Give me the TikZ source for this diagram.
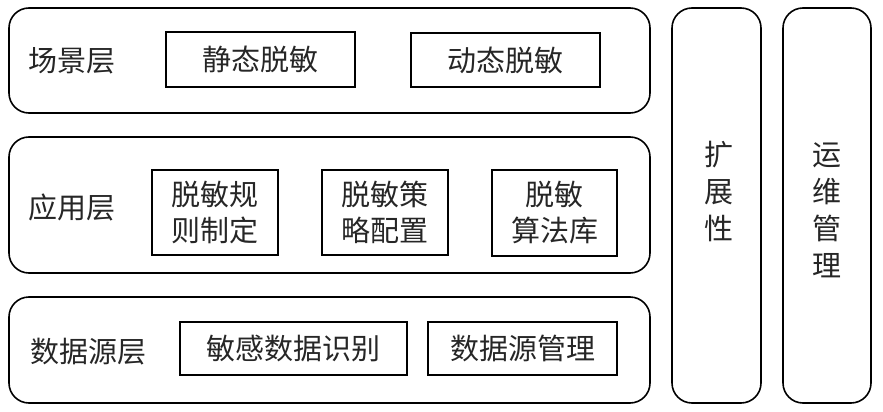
\documentclass[tikz,border=0pt]{standalone}
\usepackage{fontspec}
\setmainfont{Noto Sans CJK SC}
\begin{document}
\begin{tikzpicture}[
        x=1pt, y=-1pt,
        layer/.style={draw, line width=1.6pt, rounded corners=20pt, minimum width=641pt},
        item/.style={draw, line width=1.1pt, align=center, inner sep=0pt, text=black!85, font=\fontsize{29}{36}\selectfont},
        side/.style={draw, line width=1.6pt, rounded corners=20pt, minimum width=89pt, minimum height=395pt},
        tag/.style={text=black!85, align=center, font=\fontsize{29}{37}\selectfont}
    ]
    \useasboundingbox (0,0) rectangle (883,412);

    \node[layer, minimum height=105pt] (scene) at (329.5,60.5) {};
    \node[layer, minimum height=136pt] (app) at (329.5,205) {};
    \node[layer, minimum height=106pt] (source) at (329.5,350) {};

    \node[tag] (sceneTag) at (72,61) {场景层};
    \node[tag] (appTag) at (72,207) {应用层};
    \node[tag] (sourceTag) at (88,352) {数据源层};

    \node[item, minimum width=189pt, minimum height=55pt] (static) at (260.5,59.5) {静态脱敏};
    \node[item, minimum width=189pt, minimum height=54pt] (dynamic) at (505.5,60) {动态脱敏};

    \node[item, minimum width=126pt, minimum height=85pt] (rule) at (215,212.5) {脱敏规\\则制定};
    \node[item, minimum width=126pt, minimum height=85pt] (policy) at (385,212.5) {脱敏策\\略配置};
    \node[item, minimum width=125pt, minimum height=86pt] (algo) at (554.5,213) {脱敏\\算法库};

    \node[item, minimum width=227pt, minimum height=53pt] (detect) at (293.5,348.5) {敏感数据识别};
    \node[item, minimum width=189pt, minimum height=53pt] (manage) at (522.5,348.5) {数据源管理};

    \node[side] (extend) at (716.5,205.5) {};
    \node[side, minimum width=88pt] (ops) at (827,205.5) {};
    \node[tag] (extendTag) at (719,191) {扩\\展\\性};
    \node[tag] (opsTag) at (827,210.5) {运\\维\\管\\理};
\end{tikzpicture}
\end{document}
